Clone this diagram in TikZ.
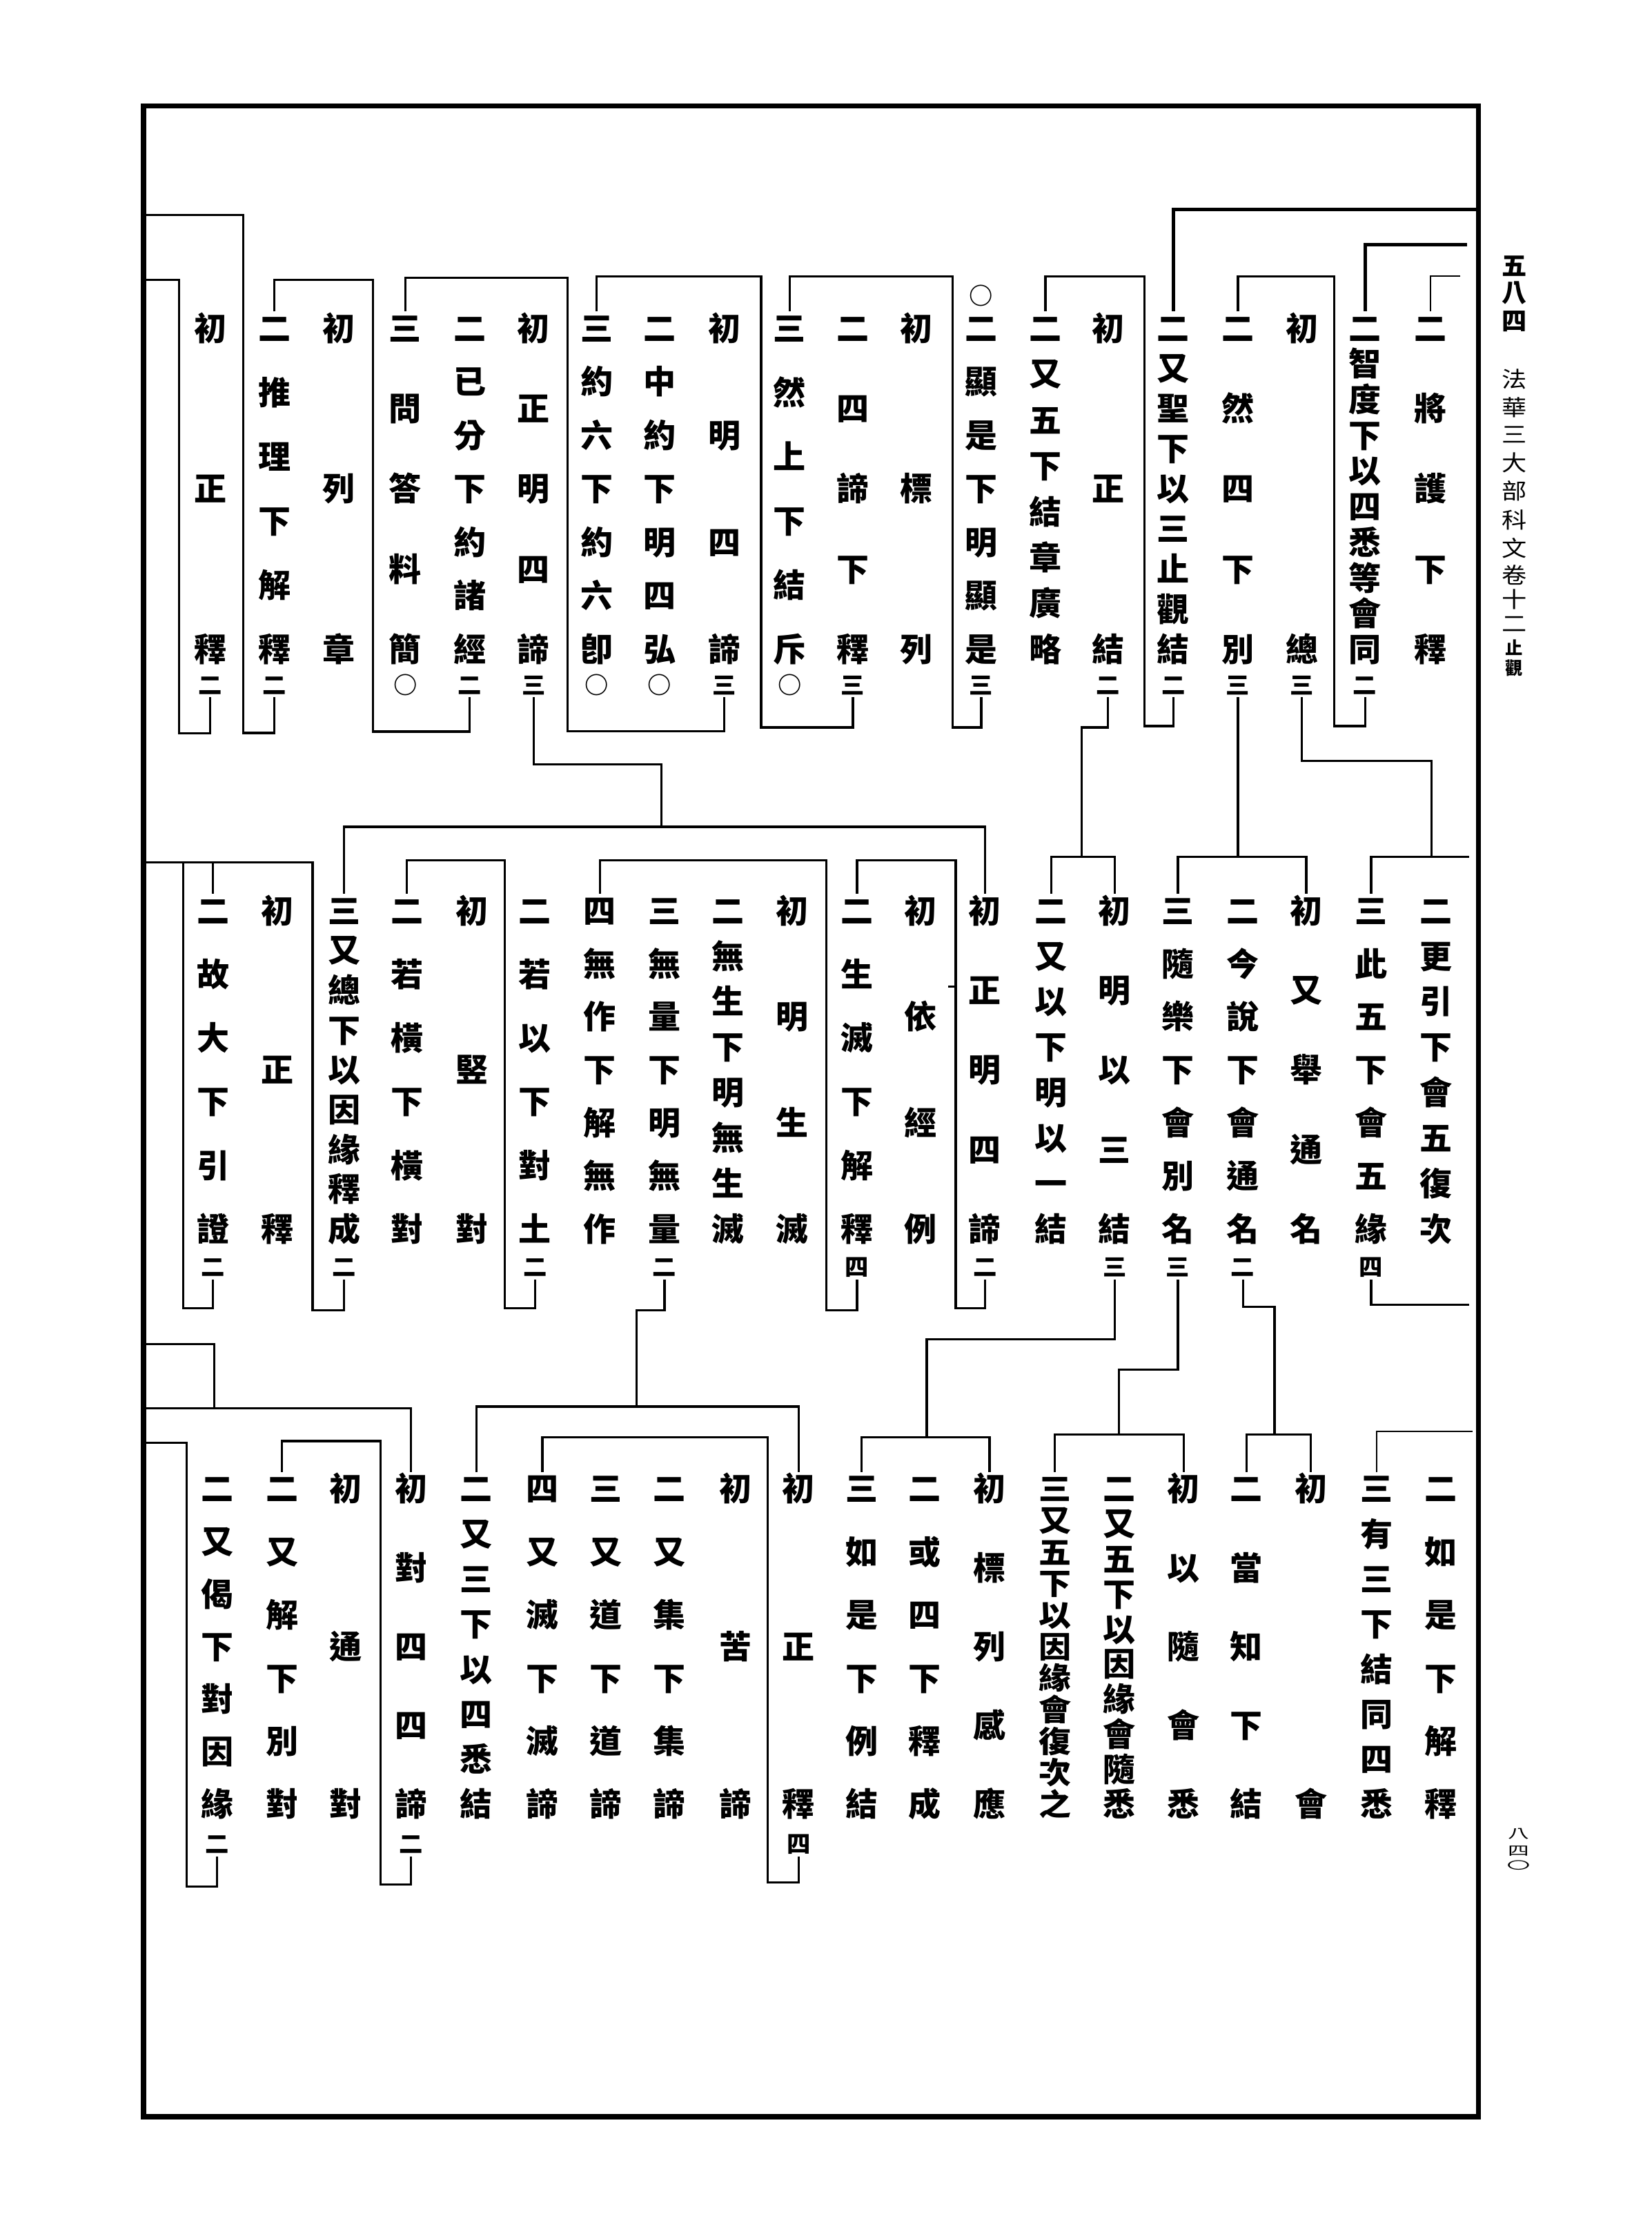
\documentclass[tikz,border=0pt]{standalone}
\usepackage{fontspec}
\usepackage{graphicx}
\newfontfamily\cjk{Noto Sans CJK TC}
\tikzset{
  ch/.style={font=\cjk\bfseries\fontsize{13}{13}\selectfont, inner sep=0pt, text height=11.4pt, text depth=1.6pt, anchor=center},
  sfx/.style={font=\cjk\bfseries\fontsize{9.5}{9.5}\selectfont, inner sep=0pt, text height=8.3pt, text depth=1.2pt, anchor=center},
  hdb/.style={font=\cjk\bfseries\fontsize{10}{10}\selectfont, inner sep=0pt, text height=8.8pt, text depth=1.2pt, anchor=center},
  hd/.style={font=\cjk\fontsize{10}{10}\selectfont, inner sep=0pt, text height=8.8pt, text depth=1.2pt, anchor=center},
  hds/.style={font=\cjk\bfseries\fontsize{7}{7}\selectfont, inner sep=0pt, anchor=center},
  pg/.style={font=\cjk\fontsize{8.5}{8.5}\selectfont, inner sep=0pt, anchor=center},
  ln/.style={line width=0.9pt, line join=miter},
  thk/.style={line width=1.4pt, line join=miter},
  thn/.style={line width=0.6pt, line join=miter},
  framebox/.style={line width=2pt, line join=miter}
}
% name, x, y1, y2, ysuffix, chars, suffix
\newcommand\vcol[7]{%
  \foreach \c [count=\k] in {#6}{\xdef\vn{\k}}%
  \pgfmathsetmacro\vsp{(#4-#3)/max(\vn-1,1)}%
  \pgfmathsetmacro\vsq{min(1,\vsp/24)}%
  \pgfmathsetmacro\vrs{0.38*(1-\vsq)}%
  \foreach \c [count=\k] in {#6}{%
    \pgfmathsetmacro\yy{#3+(\k-1)*\vsp}%
    \node[ch] (#1-\k) at (#2,\yy) {\raisebox{\vrs em}{\scalebox{1}[\vsq]{\c}}};}%
  \if\relax\detokenize{#7}\relax\else\node[sfx] (#1-s) at (#2,#5) {#7};\fi
}
\newcommand\tcol[4]{\vcol{#1}{#2}{231}{457}{482}{#3}{#4}}
\newcommand\mcol[4]{\vcol{#1}{#2}{641}{865}{892}{#3}{#4}}
\newcommand\bcol[4]{\vcol{#1}{#2}{1048}{1270}{1298}{#3}{#4}}
\begin{document}
\begin{tikzpicture}[x=0.02cm,y=-0.02cm]
\fill[white] (0,0) rectangle (1163,1571.1);
\useasboundingbox (0,0) rectangle (1163,1571.1);
\draw[framebox] (101,74.5) rectangle (1041,1490);

% header
\foreach \c/\y [count=\k] in {五/187,八/206,四/226}
  \node[hdb] (hA-\k) at (1066,\y) {\c};
\foreach \c/\y [count=\k] in {法/266,華/286,三/305,大/325,部/345,科/365,文/385,卷/404,十/421,二/438}
  \node[hd] (hB-\k) at (1066,\y) {\scalebox{1}[0.88]{\c}};
\node[hds] (hC-1) at (1066,456) {止};
\node[hds] (hC-2) at (1066,470) {觀};
% page number
\node[pg] (pn-1) at (1069,1291) {\scalebox{1}[0.6]{八}};
\node[pg] (pn-2) at (1069,1303) {\scalebox{1}[0.6]{四}};
\node[pg] (pn-3) at (1069,1313) {\scalebox{1.1}[0.5]{〇}};

% ===== top band =====
\tcol{t1}{1007}{二,將,護,下,釋}{}
\tcol{t2}{961}{二,智,度,下,以,四,悉,等,會,同}{二}
\tcol{t3}{916.5}{初,總}{三}
\tcol{t4}{871.5}{二,然,四,下,別}{三}
\tcol{t5}{826}{二,又,聖,下,以,三,止,觀,結}{二}
\tcol{t6}{780}{初,正,結}{二}
\tcol{t7}{736}{二,又,五,下,結,章,廣,略}{}
\tcol{t8}{690.8}{二,顯,是,下,明,顯,是}{三}
\node[sfx] (t8-o) at (690.8,208.4) {○};
\tcol{t9}{645}{初,標,列}{}
\tcol{t10}{600.5}{二,四,諦,下,釋}{三}
\tcol{t11}{556}{三,然,上,下,結,斥}{○}
\tcol{t12}{510}{初,明,四,諦}{三}
\tcol{t13}{464.4}{二,中,約,下,明,四,弘}{○}
\tcol{t14}{420}{三,約,六,下,約,六,卽}{○}
\tcol{t15}{375.7}{初,正,明,四,諦}{三}
\tcol{t16}{330.6}{二,已,分,下,約,諸,經}{二}
\tcol{t17}{285.4}{三,問,答,料,簡}{○}
\tcol{t18}{238.4}{初,列,章}{}
\tcol{t19}{193.2}{二,推,理,下,解,釋}{二}
\tcol{t20}{148}{初,正,釋}{二}

% ===== middle band =====
\mcol{m1}{1011}{二,更,引,下,會,五,復,次}{}
\mcol{m2}{965.3}{三,此,五,下,會,五,緣}{四}
\mcol{m3}{919.6}{初,又,舉,通,名}{}
\mcol{m4}{875}{二,今,說,下,會,通,名}{二}
\mcol{m5}{829.3}{三,隨,樂,下,會,別,名}{三}
\mcol{m6}{784.7}{初,明,以,三,結}{三}
\mcol{m7}{740.1}{二,又,以,下,明,以,一,結}{}
\mcol{m8}{693.4}{初,正,明,四,諦}{二}
\mcol{m9}{647.9}{初,依,經,例}{}
\mcol{m10}{603.4}{二,生,滅,下,解,釋}{四}
\mcol{m11}{557.8}{初,明,生,滅}{}
\mcol{m12}{512.3}{二,無,生,下,明,無,生,滅}{}
\mcol{m13}{467.8}{三,無,量,下,明,無,量}{二}
\mcol{m14}{422.3}{四,無,作,下,解,無,作}{}
\mcol{m15}{376.7}{二,若,以,下,對,土}{二}
\mcol{m16}{332.5}{初,竪,對}{}
\mcol{m17}{286.4}{二,若,橫,下,橫,對}{}
\mcol{m18}{242.2}{三,又,總,下,以,因,緣,釋,成}{二}
\mcol{m19}{195.1}{初,正,釋}{}
\mcol{m20}{150}{二,故,大,下,引,證}{二}

% ===== bottom band =====
\bcol{b1}{1014.5}{二,如,是,下,解,釋}{}
\bcol{b2}{969.2}{三,有,三,下,結,同,四,悉}{}
\bcol{b3}{922.8}{初,會}{}
\bcol{b4}{877.5}{二,當,知,下,結}{}
\bcol{b5}{833.3}{初,以,隨,會,悉}{}
\bcol{b6}{788}{二,又,五,下,以,因,緣,會,隨,悉}{}
\bcol{b7}{742.7}{三,又,五,下,以,因,緣,會,復,次,之}{}
\bcol{b8}{696.7}{初,標,列,感,應}{}
\bcol{b9}{651.1}{二,或,四,下,釋,成}{}
\bcol{b10}{606.7}{三,如,是,下,例,結}{}
\bcol{b11}{562.2}{初,正,釋}{四}
\bcol{b12}{517.7}{初,苦,諦}{}
\bcol{b13}{471.1}{二,又,集,下,集,諦}{}
\bcol{b14}{426.6}{三,又,道,下,道,諦}{}
\bcol{b15}{381.8}{四,又,滅,下,滅,諦}{}
\bcol{b16}{335.4}{二,又,三,下,以,四,悉,結}{}
\bcol{b17}{289.3}{初,對,四,四,諦}{二}
\bcol{b18}{243.2}{初,通,對}{}
\bcol{b19}{198.6}{二,又,解,下,別,對}{}
\bcol{b20}{152.9}{二,又,偈,下,對,因,緣}{二}

% ===== connectors: top band =====
\draw[thk] (1041,147.5) -- (826,147.5) -- (t5-1.north);
\draw[thk] (1033,172) -- (961,172) -- (t2-1.north);
\draw[thn] (1028,194.4) -- (1007,194.4) -- (t1-1.north);
\draw[ln] (t4-1.north) -- (871.5,194.4) -- (939.4,194.4) -- (939.4,511) -- (961,511) -- (t2-s.south);
\draw[ln] (t7-1.north) -- (736,194.4) -- (805.6,194.4) -- (805.6,511) -- (826,511) -- (t5-s.south);
\draw[ln] (t3-s.south) -- (916.5,535.5) -- (1007.7,535.5) -- (1007.7,603);
\draw[ln] (t4-s.south) -- (871.5,603);
\draw[ln] (t6-s.south) -- (780,512) -- (761.5,512) -- (761.5,603);
\draw[ln] (t11-1.north) -- (556,194.4) -- (670.7,194.4) -- (670.7,512) -- (690.8,512) -- (t8-s.south);
\draw[ln] (t14-1.north) -- (420,194.4) -- (535.8,194.4) -- (535.8,512) -- (600.5,512) -- (t10-s.south);
\draw[ln] (t17-1.north) -- (285.4,195.7) -- (399.7,195.7) -- (399.7,514.6) -- (510,514.6) -- (t12-s.south);
\draw[ln] (t19-1.north) -- (193.2,197) -- (262.4,197) -- (262.4,515) -- (330.6,515) -- (t16-s.south);
\draw[ln] (101,151.2) -- (171.1,151.2) -- (171.1,515.9) -- (193.2,515.9) -- (t19-s.south);
\draw[ln] (101,197) -- (126,197) -- (126,516) -- (148,516) -- (t20-s.south);
\draw[ln] (t15-s.south) -- (375.7,538.2) -- (465.7,538.2) -- (465.7,582);

% ===== connectors: middle band =====
\draw[ln] (m2-1.north) -- (965.3,603) -- (1034.4,603);
\draw[ln] (m2-s.south) -- (965.3,918.3) -- (1034.4,918.3);
\draw[ln] (m5-1.north) -- (829.3,603) -- (919.6,603) -- (m3-1.north);
\draw[ln] (m7-1.north) -- (740.1,603) -- (784.7,603) -- (m6-1.north);
\draw[ln] (m18-1.north) -- (242.2,582) -- (693.4,582) -- (m8-1.north);
\draw[ln] (m10-1.north) -- (603.4,605.6) -- (672.8,605.6) -- (672.8,921) -- (693.4,921) -- (m8-s.south);
\draw[ln] (667.5,694.6) -- (672.8,694.6);
\draw[ln] (m14-1.north) -- (422.3,605.6) -- (581.7,605.6) -- (581.7,922.4) -- (603.4,922.4) -- (m10-s.south);
\draw[ln] (m17-1.north) -- (286.4,605.6) -- (355.5,605.6) -- (355.5,921) -- (376.7,921) -- (m15-s.south);
\draw[ln] (101,607) -- (220.1,607) -- (220.1,922.4) -- (242.2,922.4) -- (m18-s.south);
\draw[ln] (150,607) -- (m20-1.north);
\draw[ln] (128.9,607) -- (128.9,921) -- (150,921) -- (m20-s.south);
\draw[ln] (m4-s.south) -- (875,919.7) -- (897.3,919.7) -- (897.3,1009.7);
\draw[ln] (m5-s.south) -- (829.3,963.9) -- (787.6,963.9) -- (787.6,1009.7);
\draw[ln] (m6-s.south) -- (784.7,942.6) -- (652.4,942.6) -- (652.4,1011.6);
\draw[ln] (m13-s.south) -- (467.8,922.4) -- (448.3,922.4) -- (448.3,990);
\draw[ln] (101,946.2) -- (151,946.2) -- (151,991.2);

% ===== connectors: bottom band =====
\draw[ln] (b4-1.north) -- (877.5,1009.7) -- (922.8,1009.7) -- (b3-1.north);
\draw[ln] (b7-1.north) -- (742.7,1009.7) -- (833.3,1009.7) -- (b5-1.north);
\draw[ln] (b10-1.north) -- (606.7,1011.6) -- (696.7,1011.6) -- (b8-1.north);
\draw[ln] (b16-1.north) -- (335.4,990) -- (562.2,990) -- (b11-1.north);
\draw[ln] (101,991.2) -- (289.3,991.2) -- (b17-1.north);
\draw[thn] (b2-1.north) -- (969.2,1007.5) -- (1036.6,1007.5);
\draw[ln] (b15-1.north) -- (381.8,1011.6) -- (540.5,1011.6) -- (540.5,1325) -- (562.2,1325) -- (b11-s.south);
\draw[ln] (b19-1.north) -- (198.6,1014.3) -- (268.1,1014.3) -- (268.1,1326.5) -- (289.3,1326.5) -- (b17-s.south);
\draw[ln] (101,1015.7) -- (131.4,1015.7) -- (131.4,1327.8) -- (152.9,1327.8) -- (b20-s.south);
\end{tikzpicture}
\end{document}
